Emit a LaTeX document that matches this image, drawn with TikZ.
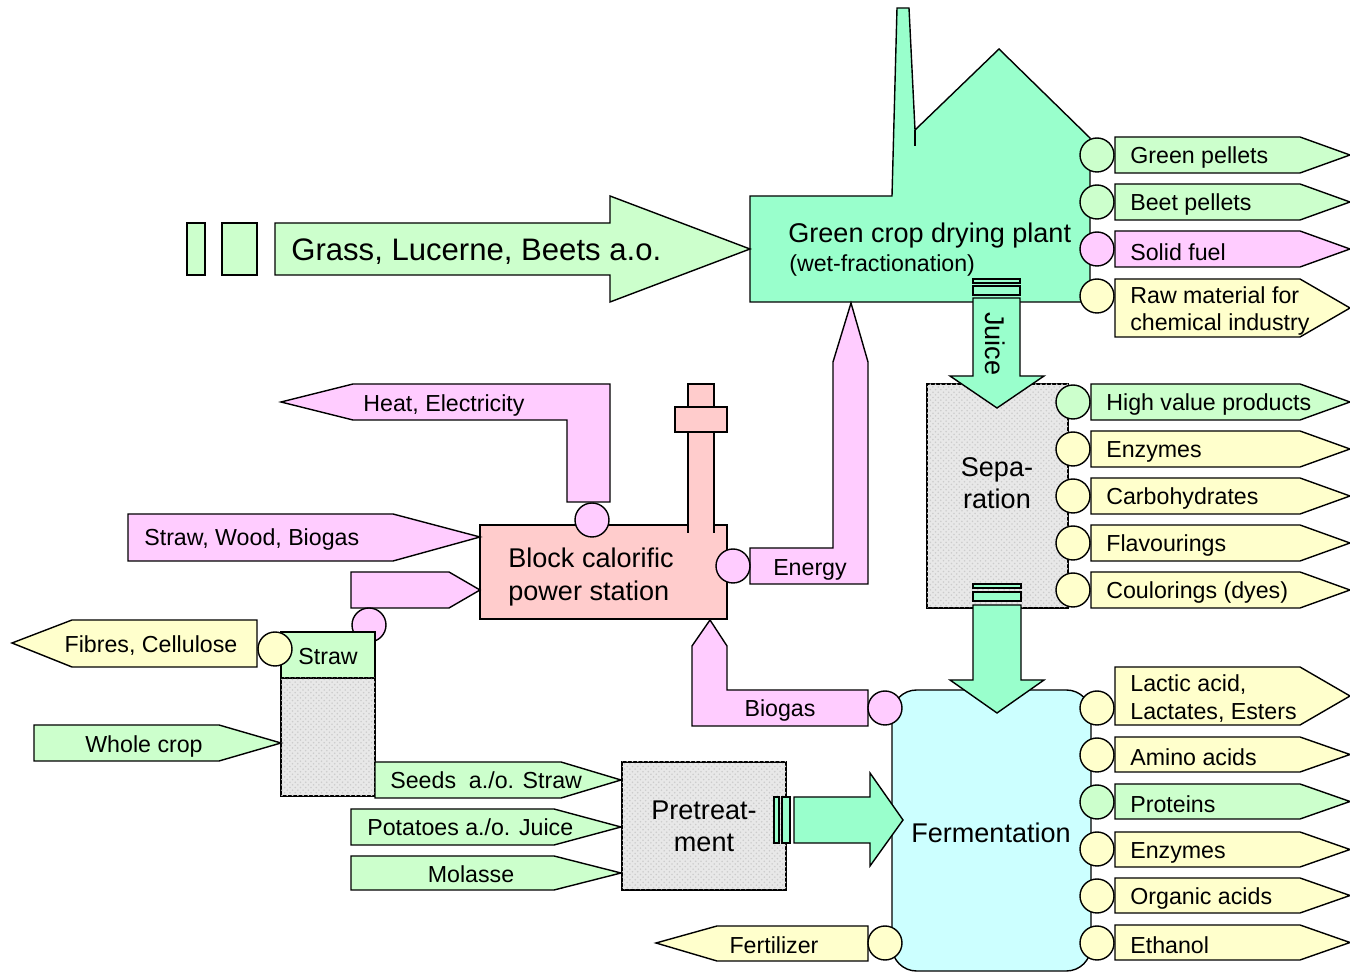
\documentclass[tikz,border=0pt]{standalone}
\usepackage{fontspec}
\setmainfont{Liberation Sans}
\usetikzlibrary{patterns}
\definecolor{plantgreen}{RGB}{153,255,204}
\definecolor{palegreen}{RGB}{204,255,204}
\definecolor{palepink}{RGB}{255,204,255}
\definecolor{paleyellow}{RGB}{255,255,204}
\definecolor{salmon}{RGB}{255,204,204}
\definecolor{palecyan}{RGB}{204,255,255}
\definecolor{speckle}{RGB}{232,232,232}
\tikzset{outline/.style={draw,line width=.8pt},
  txt/.style={inner sep=0pt,font=\fontsize{13.2}{15.9}\selectfont},
  bigtxt/.style={inner sep=0pt,font=\fontsize{15.4}{18.4}\selectfont},
  port/.style={circle,draw,line width=.8pt,minimum size=.68cm,inner sep=0pt},
  speckled/.style={fill=speckle,postaction={pattern=crosshatch dots,pattern color=black!20}}}
\newcommand{\outtag}[6]{\draw[outline,fill=#2] (#3,#4)--(1300,#4)--(1350,{(#4+#5)/2})--(1300,#5)--(#3,#5)--cycle;
  \node[txt,anchor=west,align=left] (#1) at ({#3+15},{(#4+#5)/2+3}) {#6};}
\newcommand{\port}[4]{\node[port,fill=#2] (#1) at (#3,#4) {};}

\begin{document}
\begin{tikzpicture}[x=.02cm,y=-.02cm]
\useasboundingbox (0,0) rectangle (1350,972);
% green crop drying plant
\draw[outline,fill=plantgreen] (750,196)--(892,196)--(897,8)--(909,8)--(915,130)--(999,49)--(1090,138)--(1090,302)--(750,302)--cycle;
\draw[outline] (915,130)--(915,146);
\node[bigtxt,anchor=mid west] (plant) at (788,238) {Green crop drying plant};
\node[txt,anchor=mid west] (plantsub) at (789,267) {(wet-fractionation)};
\draw[outline,fill=palegreen] (187,223) rectangle (205,275) (222,223) rectangle (257,275);
\draw[outline,fill=palegreen] (275,223)--(610,223)--(610,196)--(750,249)--(610,302)--(610,275)--(275,275)--cycle;
\node[inner sep=0pt,font=\fontsize{17.7}{21}\selectfont,anchor=mid west] (grass) at (291,256) {Grass, Lucerne, Beets a.o.};
\outtag{gpel}{palegreen}{1115}{137}{173}{Green pellets}
\outtag{bpel}{palegreen}{1115}{184}{220}{Beet pellets}
\outtag{sfuel}{palepink}{1115}{231}{267}{Solid fuel}
\outtag{rawmat}{paleyellow}{1115}{279}{337}{Raw material for\\chemical industry}
\port{gpelp}{palegreen}{1097}{155}\port{bpelp}{palegreen}{1097}{202}
\port{sfuelp}{palepink}{1097}{249}\port{rawmatp}{paleyellow}{1097}{296}
% separation
\draw[outline,fill=plantgreen] (973,279) rectangle (1020,283) (973,286) rectangle (1020,295);
\draw[outline,speckled] (927,384) rectangle (1068,608);
\node[bigtxt,align=center] (sep) at (997,483) {Sepa-\\ration};
\draw[outline,fill=plantgreen] (973,298)--(1020,298)--(1020,376)--(1044,376)--(997,408)--(950,376)--(973,376)--cycle;
\node[bigtxt,rotate=-90] (juice) at (995,344) {Juice};
\outtag{hvp}{palegreen}{1091}{384}{420}{High value products}
\outtag{senz}{paleyellow}{1091}{431}{467}{Enzymes}
\outtag{carb}{paleyellow}{1091}{478}{514}{Carbohydrates}
\outtag{flav}{paleyellow}{1091}{525}{561}{Flavourings}
\outtag{dyes}{paleyellow}{1091}{572}{608}{Coulorings (dyes)}
\port{hvpp}{palegreen}{1073}{402}\port{senzp}{paleyellow}{1073}{449}\port{carbp}{paleyellow}{1073}{496}
\port{flavp}{paleyellow}{1073}{543}\port{dyesp}{paleyellow}{1073}{590}
\draw[outline,fill=plantgreen] (973,584) rectangle (1021,588) (973,592) rectangle (1021,601);
% fermentation
\draw[outline,fill=palecyan,rounded corners=14pt] (892,690) rectangle (1091,971);
\node[bigtxt] (ferm) at (991,833) {Fermentation};
\draw[outline,fill=plantgreen] (973,605)--(1021,605)--(1021,680)--(1044,680)--(997,713)--(950,680)--(973,680)--cycle;
\outtag{lactic}{paleyellow}{1115}{667}{725}{Lactic acid,\\Lactates, Esters}
\outtag{amino}{paleyellow}{1115}{737}{772}{Amino acids}
\outtag{prot}{palegreen}{1115}{784}{819}{Proteins}
\outtag{fenz}{paleyellow}{1115}{832}{867}{Enzymes}
\outtag{orga}{paleyellow}{1115}{878}{913}{Organic acids}
\outtag{eth}{paleyellow}{1115}{925}{960}{Ethanol}
\port{lacticp}{paleyellow}{1097}{708}\port{aminop}{paleyellow}{1097}{755}\port{protp}{palegreen}{1097}{802}
\port{fenzp}{paleyellow}{1097}{849}\port{orgap}{paleyellow}{1097}{896}\port{ethp}{paleyellow}{1097}{943}
% block calorific power station
\draw[outline,fill=salmon] (480,525) rectangle (727,619);
\draw[outline,fill=salmon] (688,533)--(688,384)--(714,384)--(714,533);
\draw[outline,fill=salmon] (675,407) rectangle (727,432);
\node[inner sep=0pt,font=\fontsize{15.4}{18.7}\selectfont,anchor=west,align=left] (bcps) at (508,577) {Block calorific\\power station};
\draw[outline,fill=palepink] (281,402)--(353,384)--(610,384)--(610,502)--(567,502)--(567,420)--(353,420)--cycle;
\node[txt] (heat) at (444,406) {Heat, Electricity};
\port{heatp}{palepink}{592}{520}
\draw[outline,fill=palepink] (750,548)--(833,548)--(833,362)--(851,303)--(868,362)--(868,584)--(750,584)--cycle;
\node[txt] (energy) at (810,570) {Energy};
\port{energyp}{palepink}{733}{566}
\draw[outline,fill=palepink] (692,726)--(692,646)--(710,620)--(727,646)--(727,690)--(868,690)--(868,726)--cycle;
\node[txt] (biogas) at (780,711) {Biogas};
\port{biogasp}{palepink}{885}{708}
\draw[outline,fill=palepink] (128,514)--(393,514)--(480,537)--(393,561)--(128,561)--cycle;
\node[txt,anchor=west] (swb) at (144,540) {Straw, Wood, Biogas};
\draw[outline,fill=palepink] (351,572)--(449,572)--(480,590)--(449,608)--(351,608)--cycle;
\port{strawp}{palepink}{369}{625}
% straw and pretreatment
\draw[outline,fill=palegreen] (281,632) rectangle (375,678);
\draw[outline,speckled] (281,678) rectangle (375,796);
\node[txt] (straw) at (328,657) {Straw};
\draw[outline,fill=paleyellow] (12,643)--(72,620)--(257,620)--(257,667)--(72,667)--cycle;
\node[txt] (fibres) at (151,646) {Fibres, Cellulose};
\port{fibresp}{paleyellow}{275}{649}
\draw[outline,fill=palegreen] (34,725)--(219,725)--(281,743)--(219,761)--(34,761)--cycle;
\node[txt] (whole) at (144,747) {Whole crop};
\draw[outline,fill=palegreen] (375,762)--(561,762)--(621,780)--(561,798)--(375,798)--cycle;
\node[txt,anchor=west] (seeds) at (390,780) {Seeds\ \ a./o. Straw};
\draw[outline,fill=palegreen] (351,809)--(554,809)--(621,827)--(554,845)--(351,845)--cycle;
\node[txt,anchor=west] (potato) at (367,827) {Potatoes a./o. Juice};
\draw[outline,fill=palegreen] (351,856)--(554,856)--(621,873)--(554,890)--(351,890)--cycle;
\node[txt] (molasse) at (471,874) {Molasse};
\draw[outline,speckled] (622,762) rectangle (786,890);
\node[bigtxt,align=center] (pretreat) at (704,826) {Pretreat-\\ment};
\draw[outline,fill=plantgreen] (774,797) rectangle (779,843) (782,797) rectangle (790,843);
\draw[outline,fill=plantgreen] (794,797)--(870,797)--(870,773)--(903,820)--(870,866)--(870,843)--(794,843)--cycle;
\draw[outline,fill=paleyellow] (656,943)--(717,926)--(868,926)--(868,961)--(717,961)--cycle;
\node[txt] (fert) at (774,945) {Fertilizer};
\port{fertp}{paleyellow}{885}{943}
\end{tikzpicture}
\end{document}
